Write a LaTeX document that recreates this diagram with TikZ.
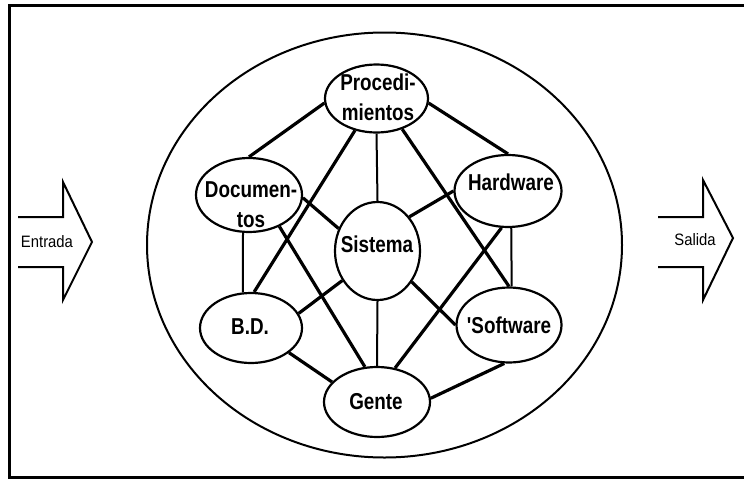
\documentclass[tikz,border=0pt]{standalone}
\usepackage{fontspec}
\setmainfont{Liberation Sans}
\newfontfamily\nodefont{Liberation Sans}[FakeStretch=0.82]
\newfontfamily\iofont{Liberation Sans}[FakeStretch=0.9]
\usetikzlibrary{shapes.geometric}
\tikzset{
  ell/.style={draw, ellipse, line width=2.2pt, inner sep=0pt, fill=white},
  lbl/.style={font=\nodefont\bfseries\fontsize{23}{30}\selectfont, align=center, inner sep=0pt},
  io/.style={font=\iofont\fontsize{16.5}{18}\selectfont, inner sep=0pt},
  thickln/.style={line width=3.2pt},
  thinln/.style={line width=2pt},
  arrowshape/.style={line width=2pt, line join=miter}
}
\begin{document}
\begin{tikzpicture}[x=1pt, y=-1pt]
\useasboundingbox (0,0) rectangle (744,479);
% frame
\draw[line width=3pt] (744,5) -- (9,5) -- (9,477) -- (744,477);
% big ellipse
\draw[line width=2pt] (384.5,245) ellipse [x radius=237.5, y radius=212.5];
% nodes
\node[ell, minimum width=103pt, minimum height=68pt] (proc) at (376.5,98.5) {};
\node[ell, minimum width=106pt, minimum height=74pt] (doc) at (249,195) {};
\node[ell, minimum width=107pt, minimum height=72pt] (hard) at (508,191) {};
\node[ell, minimum width=85pt, minimum height=98pt] (sis) at (377.5,251) {};
\node[ell, minimum width=102pt, minimum height=70pt] (bd) at (251,328) {};
\node[ell, minimum width=105pt, minimum height=75pt] (soft) at (509,325) {};
\node[ell, minimum width=106pt, minimum height=70pt] (gente) at (377,402) {};
% connectors
\draw[thickln] (proc.185) -- (doc.north);
\draw[thickln] (proc.-5) -- (hard.north);
\draw[thinln] (proc.south) -- (sis.north);
\draw[thickln] (proc.236) -- (bd.85);
\draw[thickln] (proc.-50) -- (soft.north);
\draw[thickln] (doc.-3) -- (sis.150);
\draw[thickln] (doc.-46) -- (gente.109);
\draw[thinln] (doc.261) -- (bd.103);
\draw[thickln] (hard.west) -- (sis.47);
\draw[thickln] (hard.260) -- (gente.62);
\draw[thinln] (hard.-85) -- (soft.86);
\draw[thickln] (sis.220) -- (bd.17);
\draw[thickln] (sis.-42) -- (soft.west);
\draw[thinln] (sis.south) -- (gente.north);
\draw[thickln] (bd.-33) -- (gente.156);
\draw[thickln] (soft.263) -- (gente.4);
% labels
\node[lbl] (procT) at (378,97) {Procedi-\\mientos};
\node[lbl] (docT) at (251,205) {Documen-\\tos};
\node[lbl] (hardT) at (511,182) {Hardware};
\node[lbl] (sisT) at (377,244) {Sistema};
\node[lbl] (bdT) at (250,327) {B.D.};
\node[lbl] (softT) at (509,325) {'Software};
\node[lbl] (genteT) at (376,402) {Gente};
% in/out arrows
\draw[arrowshape] (18,217) -- (63,217) -- (63,182) -- (92,242) -- (63,300) -- (63,267) -- (18,267);
\node[io] (entrada) at (47,242) {Entrada};
\draw[arrowshape] (658,217) -- (703,217) -- (703,180) -- (733,238) -- (703,300) -- (703,267) -- (658,267);
\node[io] (salida) at (695,240) {Salida};
\end{tikzpicture}
\end{document}
